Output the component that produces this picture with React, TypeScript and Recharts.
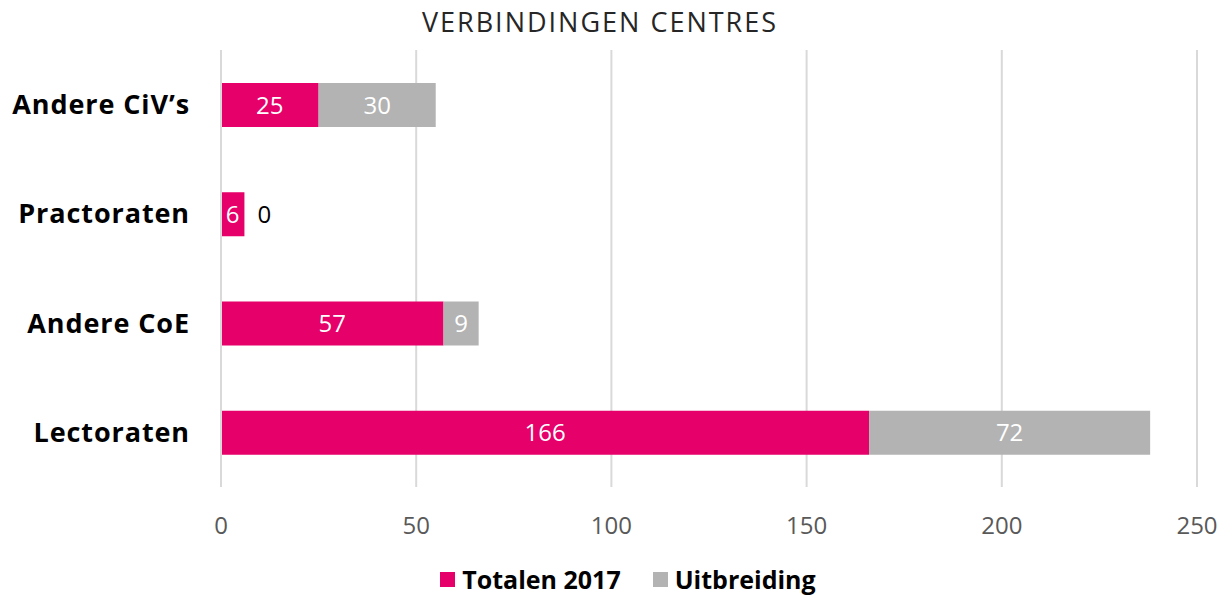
import { BarChart, Bar, XAxis, YAxis, CartesianGrid, LabelList } from 'recharts'

const categories = ['Andere CiV’s', 'Practoraten', 'Andere CoE', 'Lectoraten']
const totalen2017 = [25, 6, 57, 166]
const uitbreiding = [30, 0, 9, 72]
const xTicks = [0, 50, 100, 150, 200, 250]

const data = categories.map((name, i) => ({
  name,
  totalen: totalen2017[i],
  uitbreiding: uitbreiding[i],
}))

const PINK = '#e6006a'
const GREY = '#b3b3b3'

// labels of the pink part; a zero "Uitbreiding" gets drawn here too, next to the bar
function TotalLabel(props: any) {
  const { x, y, width, height, value, index } = props
  const extra = uitbreiding[index]
  return (
    <g>
      <text x={x + width / 2} y={y + height / 2} dy="0.36em" textAnchor="middle"
        fill="#fff" fontSize={24} fontFamily="Open Sans">
        {value}
      </text>
      {extra === 0 && (
        <text x={x + width + 20} y={y + height / 2} dy="0.36em" textAnchor="middle"
          fill="#000" fontSize={24} fontFamily="Open Sans">
          {extra}
        </text>
      )}
    </g>
  )
}

function ExtraLabel(props: any) {
  const { x, y, width, height, value } = props
  if (!value) return null
  return (
    <text x={x + width / 2} y={y + height / 2} dy="0.36em" textAnchor="middle"
      fill="#fff" fontSize={24} fontFamily="Open Sans">
      {value}
    </text>
  )
}

const legendItems = [
  { label: 'Totalen 2017', color: PINK },
  { label: 'Uitbreiding', color: GREY },
]

export default function App() {
  return (
    <div style={{ margin: -8, position: 'relative', width: 1230, height: 605, background: '#fff', overflow: 'hidden' }}>
      <div style={{ position: 'absolute', top: 3, left: 0, width: 1200, textAlign: 'center', fontFamily: 'Open Sans', fontSize: 27, color: '#262626', letterSpacing: 2 }}>
        VERBINDINGEN CENTRES
      </div>
      <BarChart width={1230} height={605} data={data} layout="vertical"
        margin={{ top: 50, right: 33, bottom: 58, left: 10 }} barSize={44}>
        <CartesianGrid horizontal={false} stroke="#d9d9d9" strokeWidth={2} />
        <XAxis type="number" domain={[0, 250]} ticks={xTicks} axisLine={false} tickLine={false}
          height={60} tickMargin={24} tick={{ fill: '#595959', fontSize: 24, fontFamily: 'Open Sans' }} />
        <YAxis type="category" dataKey="name" width={211} axisLine={{ stroke: '#d9d9d9', strokeWidth: 2 }}
          tickLine={false} tickSize={0} tickMargin={31}
          tick={{ fill: '#000', fontSize: 27, fontWeight: 700, fontFamily: 'Open Sans', letterSpacing: 0.9 }} />
        <Bar dataKey="totalen" name="Totalen 2017" stackId="a" fill={PINK} isAnimationActive={false}>
          <LabelList dataKey="totalen" content={TotalLabel} />
        </Bar>
        <Bar dataKey="uitbreiding" name="Uitbreiding" stackId="a" fill={GREY} isAnimationActive={false}>
          <LabelList dataKey="uitbreiding" content={ExtraLabel} />
        </Bar>
      </BarChart>
      <div style={{ position: 'absolute', top: 564, left: 26, width: 1204, display: 'flex', justifyContent: 'center', gap: 32, fontFamily: 'Open Sans', fontWeight: 700, fontSize: 25, lineHeight: '30px', color: '#000' }}>
        {legendItems.map((it) => (
          <div key={it.label} style={{ display: 'flex', alignItems: 'center' }}>
            <span style={{ width: 15, height: 15, background: it.color, marginRight: 7, display: 'inline-block' }} />
            {it.label}
          </div>
        ))}
      </div>
    </div>
  )
}
